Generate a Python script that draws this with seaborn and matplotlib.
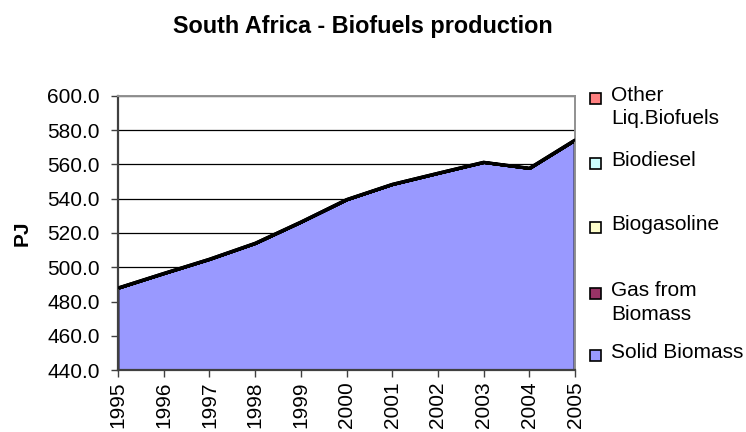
import matplotlib
matplotlib.use("Agg")
import matplotlib.pyplot as plt
from matplotlib.patches import Rectangle
import numpy as np
import pandas as pd
import seaborn as sns

# Annual biofuels production, South Africa (PJ)
years = ["1995", "1996", "1997", "1998", "1999", "2000",
         "2001", "2002", "2003", "2004", "2005"]
solid_biomass = [488.0, 496.5, 504.8, 514.1, 526.5, 539.6,
                 548.5, 555.0, 561.4, 557.9, 574.4]
gas_from_biomass = [0.0] * 11
biogasoline = [0.0] * 11
biodiesel = [0.0] * 11
other_liq_biofuels = [0.0] * 11

series_names = ["Solid Biomass", "Gas from\nBiomass", "Biogasoline",
                "Biodiesel", "Other\nLiq.Biofuels"]
series_colors = ["#9999FF", "#993366", "#FFFFCC", "#CCFFFF", "#FF8080"]
y_ticks = [440, 460, 480, 500, 520, 540, 560, 580, 600]

sns.set_theme(style="white")
plt.rcParams["font.family"] = ["Liberation Sans", "DejaVu Sans"]
plt.rcParams.update({"text.color": "black", "axes.labelcolor": "black",
                     "xtick.color": "black", "ytick.color": "black"})

df = pd.DataFrame({
    "year": years,
    "Solid Biomass": solid_biomass,
    "Gas from Biomass": gas_from_biomass,
    "Biogasoline": biogasoline,
    "Biodiesel": biodiesel,
    "Other Liq.Biofuels": other_liq_biofuels,
})
df["pos"] = np.arange(len(df))

fig = plt.figure(figsize=(7.46, 4.32), dpi=100)
ax = fig.add_axes([0.1582, 0.1435, 0.6126, 0.6343])

layers = [df["Solid Biomass"], df["Gas from Biomass"], df["Biogasoline"],
          df["Biodiesel"], df["Other Liq.Biofuels"]]
ax.stackplot(df["pos"], *layers, colors=series_colors,
             edgecolor="black", linewidth=2.0, zorder=2)

# outline along the top of the stack
df["total"] = sum(layers)
sns.lineplot(data=df, x="pos", y="total", ax=ax, color="black",
             linewidth=2.0, zorder=3)

ax.set_xlim(0, len(years) - 1)
ax.set_ylim(440, 600)
ax.set_yticks(y_ticks)
ax.set_yticklabels([f"{v:.1f}" for v in y_ticks], fontsize=15)
ax.set_xticks(df["pos"])
ax.set_xticklabels(years, rotation=90, fontsize=15, va="top")
ax.set_xlabel("")
ax.set_ylabel("PJ", fontsize=15, fontweight="bold", labelpad=11)

ax.grid(axis="y", color="black", linewidth=0.9, zorder=1)
ax.set_axisbelow(True)
ax.tick_params(axis="both", direction="out", length=5, width=1.0,
               color="#404040", left=True, bottom=True)
ax.tick_params(axis="y", pad=8)
ax.tick_params(axis="x", pad=3)
for side in ("left", "bottom"):
    ax.spines[side].set_color("#404040")
    ax.spines[side].set_linewidth(1.6)
for side in ("top", "right"):
    ax.spines[side].set_color("#909090")
    ax.spines[side].set_linewidth(1.4)

fig.text(363 / 746, 1 - 27 / 432, "South Africa - Biofuels production",
         ha="center", va="center", fontsize=16.8, fontweight="bold")

# legend entries, top to bottom
legend_y = [98, 163, 227, 293, 355]
for i, y in enumerate(legend_y):
    idx = len(series_names) - 1 - i
    fig.add_artist(Rectangle((590 / 746, 1 - (y + 6) / 432), 11 / 746, 11 / 432,
                             transform=fig.transFigure, facecolor=series_colors[idx],
                             edgecolor="black", linewidth=1.2))
    fig.text(611 / 746, 1 - (y - 12) / 432, series_names[idx], ha="left", va="top",
             fontsize=15, linespacing=1.3)

fig.savefig("out.png", dpi=100)
